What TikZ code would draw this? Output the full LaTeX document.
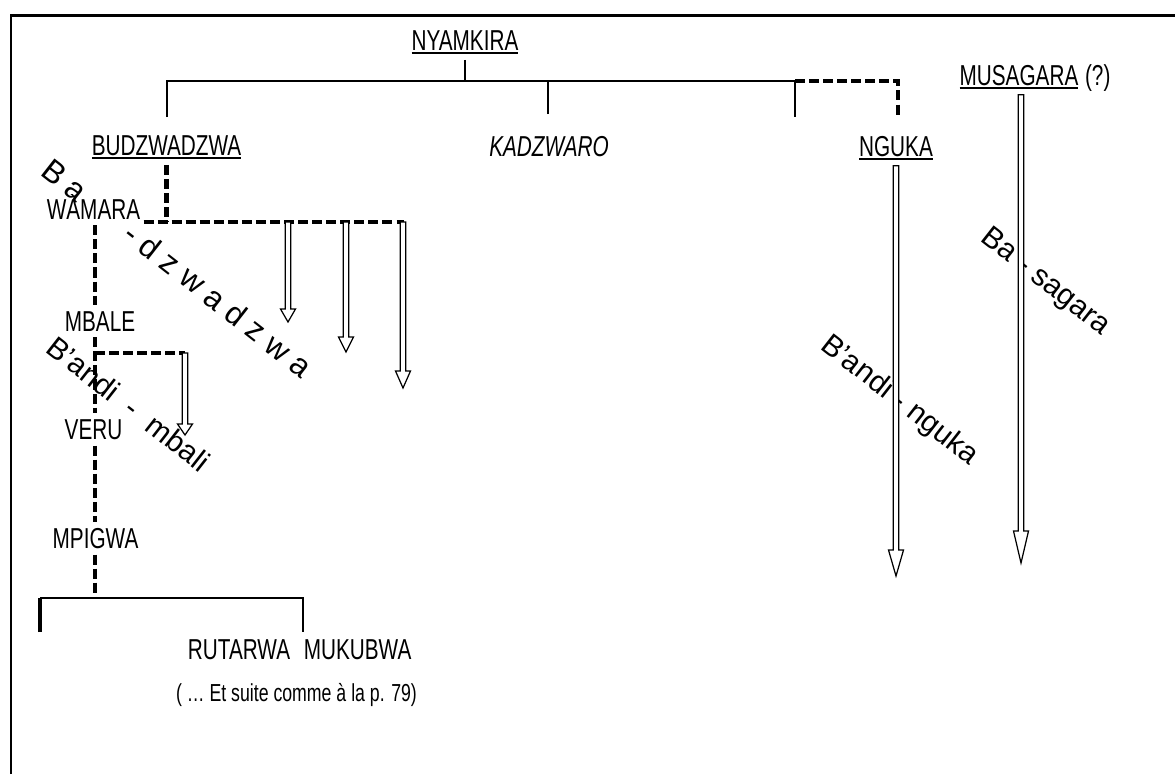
\documentclass[tikz,border=0pt]{standalone}
\usepackage{fontspec}
\setmainfont{Liberation Sans}
\newfontfamily\narrowfont{Liberation Sans}[FakeStretch=0.72]
\usetikzlibrary{calc,positioning}
\newcommand{\ulin}[1]{\setbox0\hbox{#1}\rlap{\rule[-2pt]{\wd0}{1.1pt}}\box0}
\newcommand{\harrow}[3]{%
  \draw[hollow] ($(#1)+(-2.7,0)$) -- ($(#2)+(-2.7,-#3)$) -- ($(#2)+(-7.5,-#3)$) -- (#2)
    -- ($(#2)+(7.5,-#3)$) -- ($(#2)+(2.7,-#3)$) -- ($(#1)+(2.7,0)$) -- cycle;}

\begin{document}
\begin{tikzpicture}[x=0.02cm,y=-0.02cm,
  person/.style={font=\narrowfont\fontsize{16.4}{19}\selectfont,inner xsep=1.7pt,inner ysep=3.4pt,anchor=base},
  tribe/.style={font=\fontsize{17}{20}\selectfont,inner sep=0pt,rotate=-38},
  tline/.style={line width=1.2pt},
  dline/.style={line width=2.4pt,dash pattern=on 5.7pt off 2.3pt},
  hollow/.style={line width=0.7pt,fill=white,line join=miter}
]
\useasboundingbox (0,0) rectangle (1175,774);
\coordinate (fl) at (11,774);
\coordinate (ft) at (1175,15.5);
\draw[line width=1.4pt] (fl) |- (ft);

\node[person] (nyam) at (465,50) {\ulin{NYAMKIRA}};
\node[person] (budz) at (166.5,155) {\ulin{BUDZWADZWA}};
\node[person] (kadz) at (549,156.5) {\textit{KADZWARO}};
\node[person] (nguka) at (896,156) {\ulin{NGUKA}};
\node[person] (musa) at (1019,85) {\ulin{MUSAGARA}};
\node[person,base right=0pt of musa] (musaq) {(?)};
\node[person] (wam) at (93.5,219) {WÀMARA};
\node[person] (mbale) at (100,331) {MBALE};
\node[person] (veru) at (93.5,439) {VERU};
\node[person] (mpig) at (95.5,548) {MPIGWA};
\node[person] (rut) at (239,659) {RUTARWA};
\node[person,base right=4pt of rut] (muk) {MUKUBWA};
\node[person,font=\narrowfont\fontsize{14}{17}\selectfont] (note) at (296.5,701) {( … Et suite comme à la p. 79)};

\node[tribe,font=\fontsize{18}{21}\selectfont] (tdzw) at (177.5,268) {B a\hspace{1.8em}- d z w a d z w a};
\node[tribe] (tmba) at (128.5,404) {B'andi\ \ -\ \ mbali};
\node[tribe] (tngu) at (899,401) {B'andi - nguka};
\node[tribe] (tsag) at (1045,282.5) {Ba - sagara};

\coordinate (bar) at (0,81);
\coordinate (sb) at (167,117);
\coordinate (sk) at (548,114);
\coordinate (sx) at (795,117);
\coordinate (sn) at (898,116);
\draw[tline] (nyam.south) -- (nyam.south |- bar);
\draw[tline] (sb) -- (sb |- bar) -- (sx |- bar) -- (sx);
\draw[tline] (sk) -- (sk |- bar);
\draw[dline] (sx |- bar) -- (sn |- bar) -- (sn);

\coordinate (jw) at (167,222);
\coordinate (je) at (404,222);
\draw[dline] (budz.south) -- (budz.south |- jw);
\draw[dline] (wam.east |- jw) -- (je);

\coordinate (spine) at (95,0);
\draw[dline] (wam.south -| spine) -- (mbale.north -| spine);
\draw[dline] (mbale.south -| spine) -- (veru.north -| spine);
\draw[dline] (veru.south -| spine) -- (mpig.north -| spine);
\coordinate (fork) at (95,598);
\draw[dline] (mpig.south -| spine) -- (fork);
\coordinate (mb) at (185,353);
\coordinate (mbe) at (185,435);
\draw[dline] (mb -| spine) -- (mb);
\coordinate (rl) at (40,632);
\coordinate (rr) at (303,632);
\draw[tline] (rl |- fork) -- (rr |- fork) -- (rr);
\draw[tline,line width=2.6pt] (rl) -- (rl |- fork);

\coordinate (d1) at (288,222);
\coordinate (d1e) at (288,322);
\coordinate (d2) at (346,222);
\coordinate (d2e) at (346,352);
\coordinate (d3) at (403,222);
\coordinate (d3e) at (403,388);
\coordinate (ngue) at (896,576);
\coordinate (musae) at (1021,563);
\coordinate (mt) at (musa.south -| musae);
\harrow{d1}{d1e}{13}
\harrow{d2}{d2e}{15}
\harrow{d3}{d3e}{17}
\harrow{mb}{mbe}{11}
\harrow{nguka.south}{ngue}{26}
\harrow{mt}{musae}{32}
\end{tikzpicture}
\end{document}
